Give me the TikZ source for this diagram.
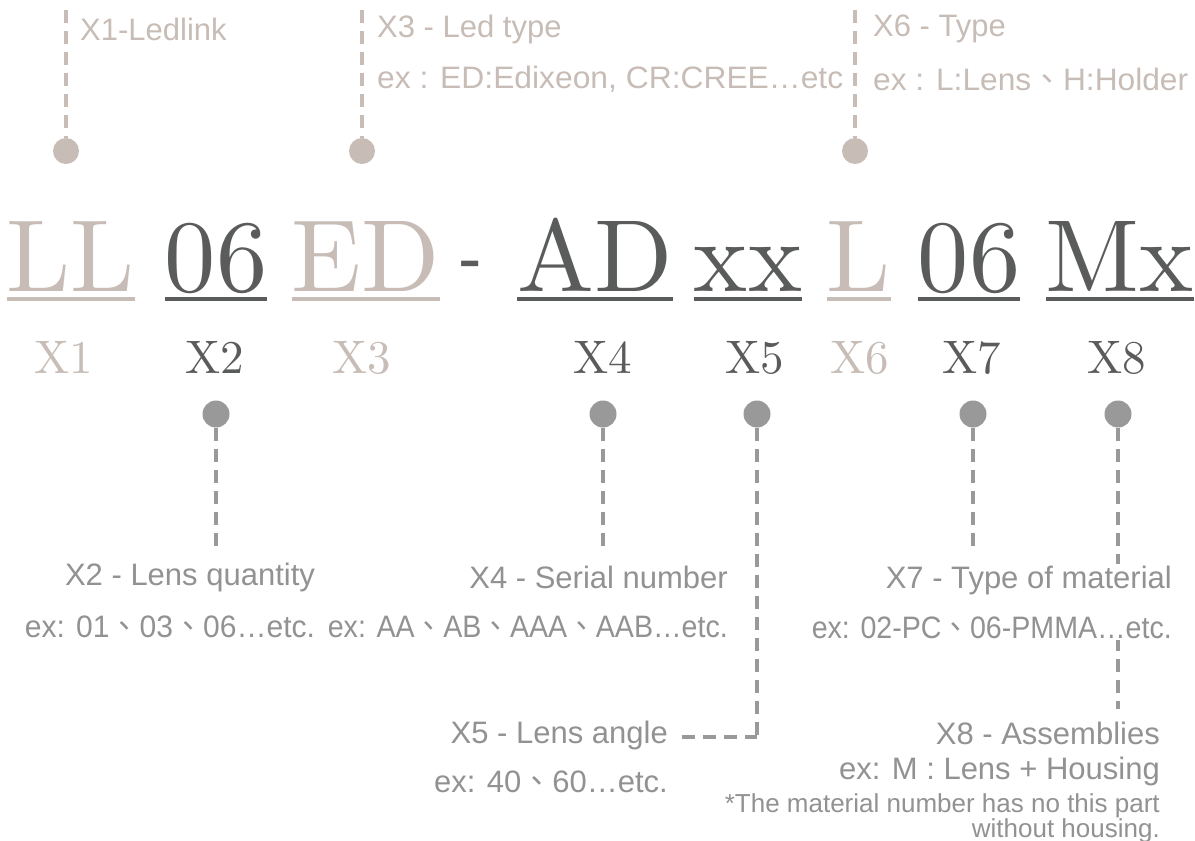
\documentclass[tikz,border=0pt]{standalone}
\usepackage{fontspec}
\newfontfamily\sansf{Liberation Sans}
\newfontfamily\cjkf{Noto Sans CJK TC}
\usetikzlibrary{backgrounds}
\definecolor{beige}{HTML}{C7BCB6}
\definecolor{dark}{HTML}{5A5C5B}
\definecolor{mid}{HTML}{999999}
\definecolor{txt}{HTML}{929292}
\newcommand{\dn}{{\cjkf 、}}
\newcommand{\bigtxt}[1]{\scalebox{10.25}{\fontsize{10}{12}\selectfont #1}}
\newcommand{\labtxt}[1]{\scalebox{4.7}{\fontsize{10}{12}\selectfont #1}}
\newcommand{\fitw}[2]{\resizebox{#1}{\height}{#2}}
\begin{document}
\begin{tikzpicture}[x=1pt,y=-1pt,
 big/.style={inner sep=0pt, anchor=base},
 lab/.style={inner sep=0pt, anchor=base},
 toptxt/.style={font=\sansf\fontsize{31}{36}\selectfont, text=beige, inner sep=0pt, anchor=west},
 lowtxt/.style={font=\sansf\fontsize{31}{50}\selectfont, text=txt, inner sep=2pt, fill=white},
 tdot/.style={circle, fill=beige, minimum size=26pt, inner sep=0pt},
 bdot/.style={circle, fill=mid, minimum size=27pt, inner sep=0pt},
 tline/.style={draw=beige, line width=4pt, dash pattern=on 13pt off 8pt},
 bline/.style={draw=mid, line width=3.5pt, dash pattern=on 13pt off 8pt},
 uline/.style={line width=4.5pt},
]
\useasboundingbox (0,0) rectangle (1195,841);

% big code line
\node[big, text=beige] (tLL)  at (71,291)  {\bigtxt{LL}};
\node[big, text=dark]  (t06a) at (216,291) {\bigtxt{06}};
\node[big, text=beige] (tED)  at (366,291) {\bigtxt{ED}};
\node[big, text=dark, font=\sansf\fontsize{70}{70}\selectfont] (tdash) at (470,282) {-};
\node[big, text=dark]  (tAD)  at (595,291) {\bigtxt{AD}};
\node[big, text=dark]  (txx)  at (748,291) {\bigtxt{xx}};
\node[big, text=beige] (tL)   at (859,291) {\bigtxt{L}};
\node[big, text=dark]  (t06b) at (969,291) {\bigtxt{06}};
\node[big, text=dark]  (tMx)  at (1120,291) {\bigtxt{Mx}};
\foreach \t/\c in {tLL/beige,t06a/dark,tED/beige,tAD/dark,txx/dark,tL/beige,t06b/dark,tMx/dark}
  \draw[uline, \c] ([yshift=-8pt]\t.base west) -- ([yshift=-8pt]\t.base east);

% labels
\node[lab, text=beige] (x1) at (64,373)  {\labtxt{X1}};
\node[lab, text=dark]  (x2) at (215,373) {\labtxt{X2}};
\node[lab, text=beige] (x3) at (362,373) {\labtxt{X3}};
\node[lab, text=dark]  (x4) at (603,373) {\labtxt{X4}};
\node[lab, text=dark]  (x5) at (755,373) {\labtxt{X5}};
\node[lab, text=beige] (x6) at (860,373) {\labtxt{X6}};
\node[lab, text=dark]  (x7) at (972,373) {\labtxt{X7}};
\node[lab, text=dark]  (x8) at (1117,373) {\labtxt{X8}};

% top dots and texts
\node[tdot] (u1) at (66,151) {};
\node[tdot] (u3) at (362,151) {};
\node[tdot] (u6) at (855,151) {};
\coordinate (c1) at (66,10);
\coordinate (c3) at (362,10);
\coordinate (c6) at (855,10);
\node[toptxt] (h1) at (80,29) {X1-Ledlink};
\node[toptxt] (h3) at (377,29) {X3 - Led type};
\node[toptxt] (e3) at (377,79) {\fitw{466pt}{ex : ED:Edixeon, CR:CREE…etc}};
\node[toptxt] (h6) at (873,29) {X6 - Type};
\node[toptxt] (e6) at (873,79) {\fitw{315pt}{ex : L:Lens\dn H:Holder}};
\draw[tline] (c1) -- (u1.north);
\draw[tline] (c3) -- (u3.north);
\draw[tline] (c6) -- (u6.north);

% bottom dots
\node[bdot] (d2) at (216,414) {};
\node[bdot] (d4) at (603,414) {};
\node[bdot] (d5) at (757,414) {};
\node[bdot] (d7) at (973,414) {};
\node[bdot] (d8) at (1118,414) {};

% bottom texts
\node[lowtxt] (n2) at (190,577) {X2 - Lens quantity};
\node[lowtxt] (e2) at (170,627) {\fitw{290pt}{ex: 01\dn 03\dn 06…etc.}};
\node[lowtxt, anchor=east] (n4) at (730,577) {X4 - Serial number};
\node[lowtxt, anchor=east] (e4) at (730,627) {\fitw{400pt}{ex: AA\dn AB\dn AAA\dn AAB…etc.}};
\node[lowtxt, anchor=east, align=right] (n7) at (1174,602) {X7 - Type of material\\\fitw{360pt}{ex: 02-PC\dn 06-PMMA…etc.}};
\node[lowtxt, anchor=east] (n5) at (670,735) {X5 - Lens angle};
\node[lowtxt, anchor=east] (e5) at (670,782) {ex: 40\dn 60…etc.};
\node[lowtxt, anchor=east] (n8) at (1162,733) {X8 - Assemblies};
\node[lowtxt, anchor=east] (e8) at (1162,771) {ex: M : Lens + Housing};
\node[lowtxt, anchor=east, align=right, font=\sansf\fontsize{26}{25}\selectfont] (m8) at (1162,818) {*The material number has no this part\\without housing.};
\coordinate (k5) at (757,737);

\begin{scope}[on background layer]
\draw[bline, shorten >=12pt] (d2.south) -- (d2 |- n2.north);
\draw[bline, shorten >=10pt] (d4.south) -- (d4 |- n4.north);
\draw[bline] (d5.south) -- (k5);
\draw[bline] ([xshift=12pt]n5.east |- k5) -- (k5);
\draw[bline, shorten >=10pt] (d7.south) -- (d7 |- n7.north);
\draw[bline, shorten >=10pt] (d8.south) -- (d8 |- n8.north);
\end{scope}
\end{tikzpicture}
\end{document}
